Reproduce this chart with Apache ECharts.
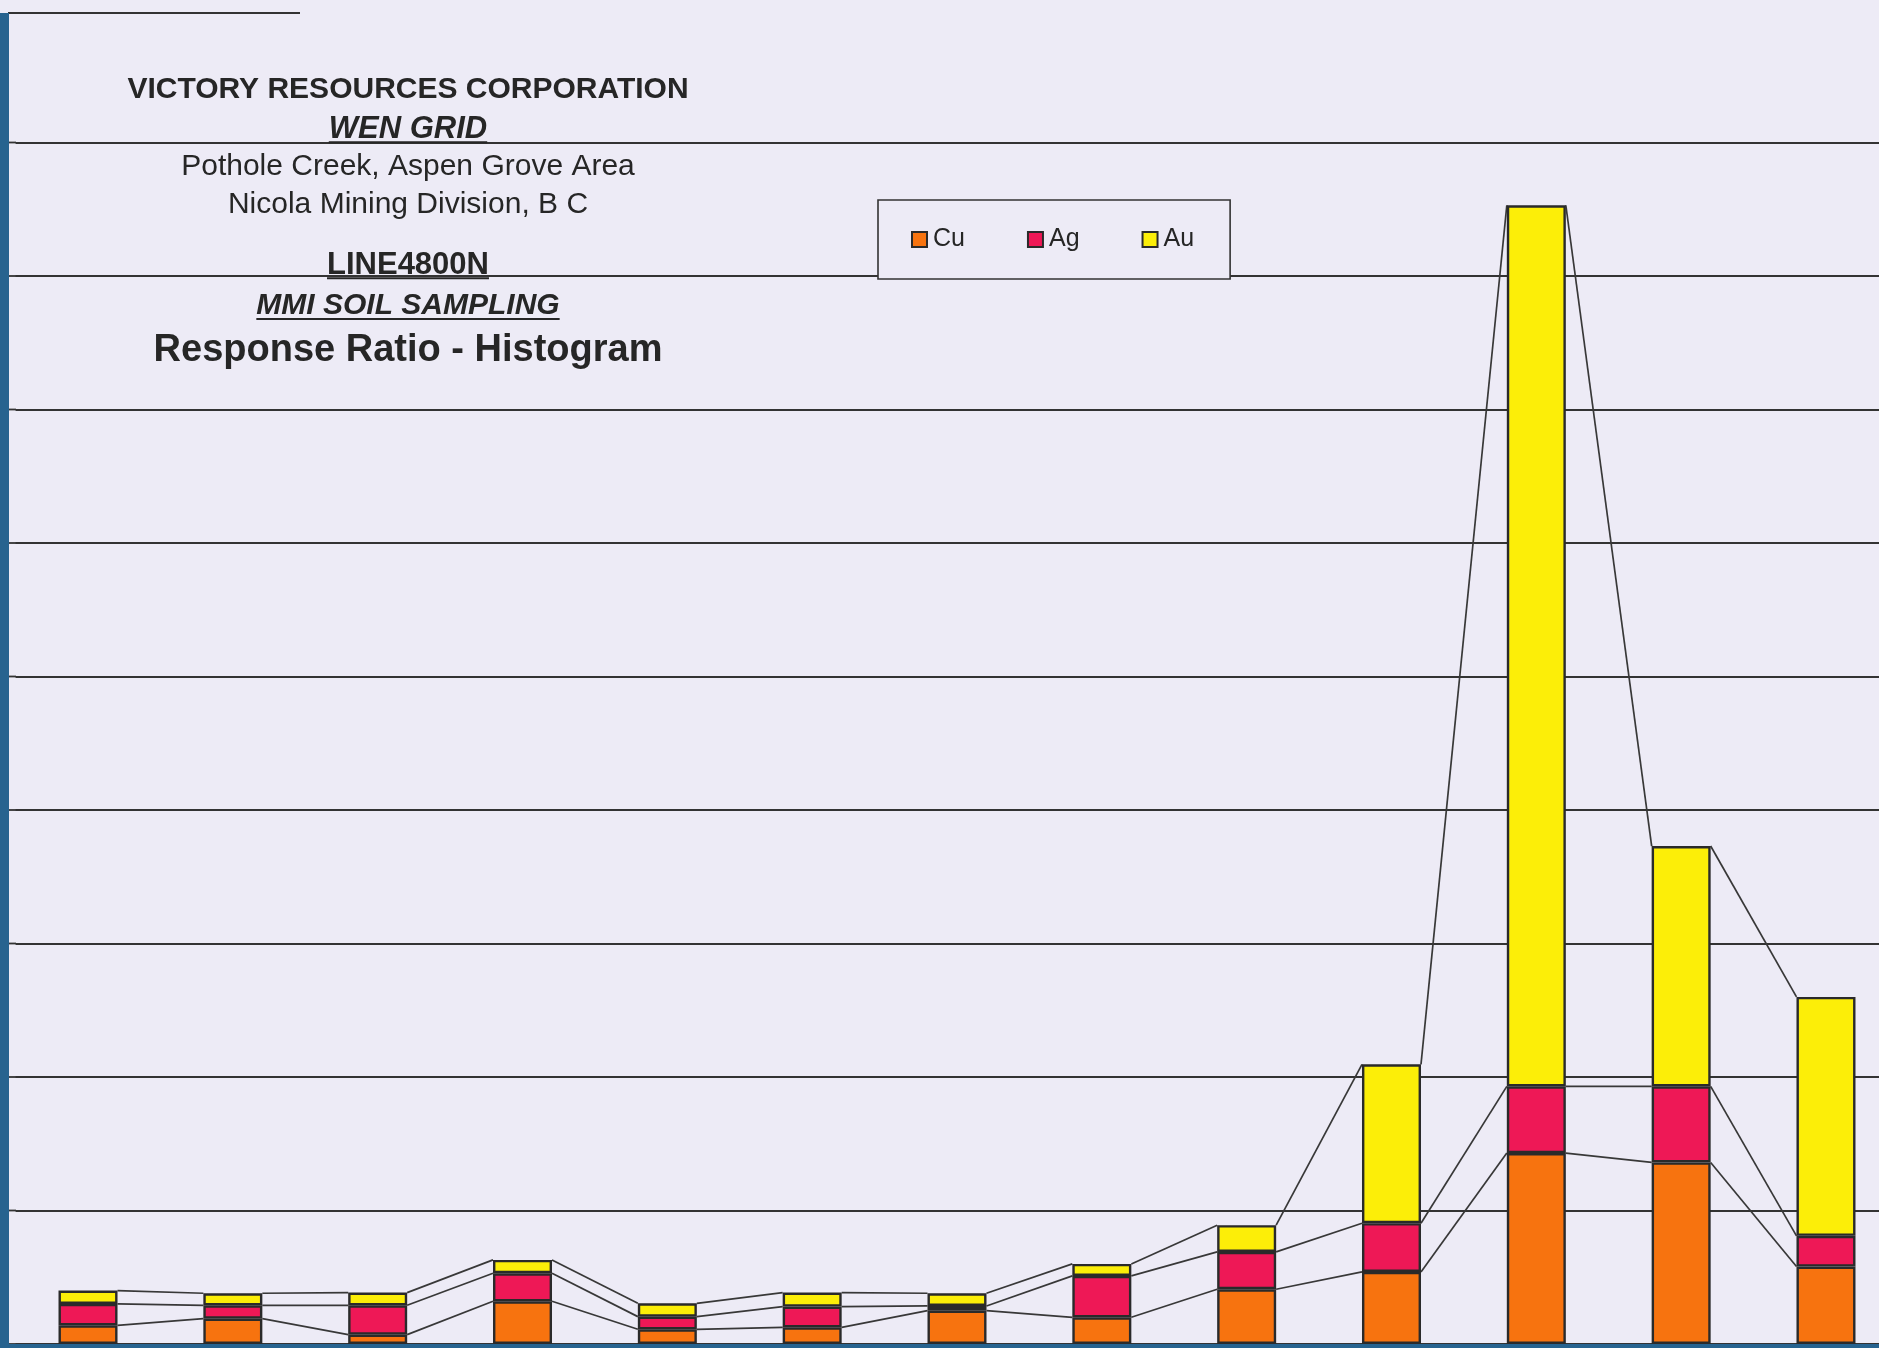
<!DOCTYPE html>
<html>
<head>
<meta charset="utf-8">
<title>Line 4800N - Response Ratio Histogram</title>
<script src="https://cdn.jsdelivr.net/npm/echarts@6/dist/echarts.min.js"></script>
<style>
  html, body { margin: 0; padding: 0; background: #edebf6; }
  #chart { width: 1879px; height: 1348px; }
</style>
</head>
<body>
<div id="chart"></div>
<script>
// Sample stations along line 4800N, west to east
const stations = ['S01', 'S02', 'S03', 'S04', 'S05', 'S06', 'S07', 'S08', 'S09', 'S10', 'S11', 'S12', 'S13'];

// MMI response ratios per element
const cu = [1.4, 1.9, 0.7, 3.2, 1.1, 1.25, 2.5, 2.0, 4.1, 5.4, 14.3, 13.6, 5.8];
const ag = [1.6, 1.0, 2.2, 2.1, 0.95, 1.55, 0.35, 3.1, 2.8, 3.65, 5.0, 5.7, 2.3];
const au = [1.0, 0.9, 0.95, 1.0, 1.0, 1.05, 0.95, 0.9, 2.0, 11.9, 66.0, 18.0, 17.9];

// Value axis
const yMin = 0;
const yMax = 100;
const yStep = 10;

// Heading block
const headingLines = [
  { text: 'VICTORY RESOURCES CORPORATION', font: 'bold 30px "Liberation Sans"', y: 90, underline: false },
  { text: 'WEN GRID', font: 'italic bold 31px "Liberation Sans"', y: 129, underline: true },
  { text: 'Pothole Creek, Aspen Grove Area', font: '30px "Liberation Sans"', y: 167, underline: false },
  { text: 'Nicola Mining Division, B C', font: '30px "Liberation Sans"', y: 205, underline: false },
  { text: 'LINE4800N', font: 'bold 31px "Liberation Sans"', y: 265, underline: true },
  { text: 'MMI SOIL SAMPLING', font: 'italic bold 30px "Liberation Sans"', y: 306, underline: true },
  { text: 'Response Ratio - Histogram', font: 'bold 38px "Liberation Sans"', y: 351, underline: false }
];

const BG = '#edebf6';
const INK = '#262626';
const EDGE = '#2a2a2a';
const SCAN_BLUE = '#27638f';
const COLORS = { Cu: '#f7730f', Ag: '#ee1856', Au: '#fcee08' };
const BAR_W = 59;

// Running totals give the top of each stacked segment
const cumCu = cu.map(v => v);
const cumAg = cu.map((v, i) => v + ag[i]);
const cumAu = cu.map((v, i) => v + ag[i] + au[i]);

// Connector segments: from the right edge of one column to the left edge of the next
function connectorData(levels) {
  const out = [];
  for (let i = 0; i < levels.length - 1; i++) out.push([i, levels[i], levels[i + 1]]);
  return out;
}

function connectorSeries(name, levels) {
  return {
    name: name,
    type: 'custom',
    z: 3,
    silent: true,
    data: connectorData(levels),
    renderItem: function (params, api) {
      const i = api.value(0);
      const a = api.coord([i, api.value(1)]);
      const b = api.coord([i + 1, api.value(2)]);
      const half = BAR_W / 2;
      return {
        type: 'line',
        shape: { x1: a[0] + half, y1: a[1], x2: b[0] - half, y2: b[1] },
        style: { stroke: '#383838', lineWidth: 1.7 }
      };
    }
  };
}

function barSeries(name, values) {
  return {
    name: name,
    type: 'bar',
    stack: 'total',
    barWidth: BAR_W,
    z: 4,
    data: values,
    itemStyle: { color: COLORS[name], borderColor: EDGE, borderWidth: 2.4 }
  };
}

const chart = echarts.init(document.getElementById('chart'), null, { renderer: 'canvas' });

chart.setOption({
  backgroundColor: BG,
  animation: false,
  grid: { left: 15.6, top: 9, width: 1882.8, height: 1335, containLabel: false, outerBoundsMode: 'none' },
  xAxis: {
    type: 'category',
    data: stations,
    axisLine: { show: false },
    axisTick: { show: false },
    axisLabel: { show: false },
    splitLine: { show: false }
  },
  yAxis: {
    type: 'value',
    min: yMin,
    max: yMax,
    interval: yStep,
    axisLine: { show: false },
    axisTick: { show: false },
    axisLabel: { show: false },
    splitLine: { show: true, showMaxLine: false, lineStyle: { color: '#333333', width: 1.8 } }
  },
  legend: {
    data: ['Cu', 'Ag', 'Au'],
    orient: 'horizontal',
    left: 878,
    top: 200,
    icon: 'rect',
    itemWidth: 15,
    itemHeight: 15,
    itemGap: 62,
    padding: [27, 36, 27, 33],
    backgroundColor: BG,
    borderColor: '#333333',
    borderWidth: 1.6,
    borderRadius: 0,
    textStyle: { fontSize: 25, fontFamily: '"Liberation Sans", Arial, sans-serif', color: INK, padding: [0, 0, 0, 1] },
    selectedMode: false
  },
  series: [
    connectorSeries('Cu-link', cumCu),
    connectorSeries('Ag-link', cumAg),
    connectorSeries('Au-link', cumAu),
    barSeries('Cu', cu),
    barSeries('Ag', ag),
    barSeries('Au', au)
  ]
});

// Heading text, underlines, the top rule fragment and the scanner edges
const measure = document.createElement('canvas').getContext('2d');
const headingX = 408;
const graphics = [];
headingLines.forEach(function (h) {
  graphics.push({
    type: 'text',
    z: 10,
    style: { text: h.text, x: headingX, y: h.y, align: 'center', verticalAlign: 'middle', font: h.font, fill: INK }
  });
  if (h.underline) {
    measure.font = h.font;
    const w = measure.measureText(h.text).width;
    const size = parseFloat(h.font.match(/(\d+)px/)[1]);
    const uy = h.y + size * 0.43;
    graphics.push({
      type: 'line',
      z: 10,
      shape: { x1: headingX - w / 2, y1: uy, x2: headingX + w / 2, y2: uy },
      style: { stroke: INK, lineWidth: 2 }
    });
  }
});

const topY = chart.convertToPixel({ yAxisIndex: 0 }, yMax);
graphics.push({
  type: 'line',
  z: 2,
  shape: { x1: 8, y1: topY + 4, x2: 300, y2: topY + 4 },
  style: { stroke: '#333333', lineWidth: 1.8 }
});
// extend each rule to the left page edge, as printed
for (let v = yMin; v < yMax; v += yStep) {
  const gy = chart.convertToPixel({ yAxisIndex: 0 }, v);
  graphics.push({
    type: 'line',
    z: 2,
    shape: { x1: 8, y1: gy, x2: 16, y2: gy },
    style: { stroke: '#333333', lineWidth: 1.8 }
  });
}
graphics.push({ type: 'rect', z: 20, shape: { x: 0, y: topY + 4, width: 9, height: 1348 }, style: { fill: SCAN_BLUE } });
graphics.push({ type: 'rect', z: 20, shape: { x: 0, y: 1344, width: 1879, height: 6 }, style: { fill: SCAN_BLUE } });

chart.setOption({ graphic: graphics });
</script>
</body>
</html>
